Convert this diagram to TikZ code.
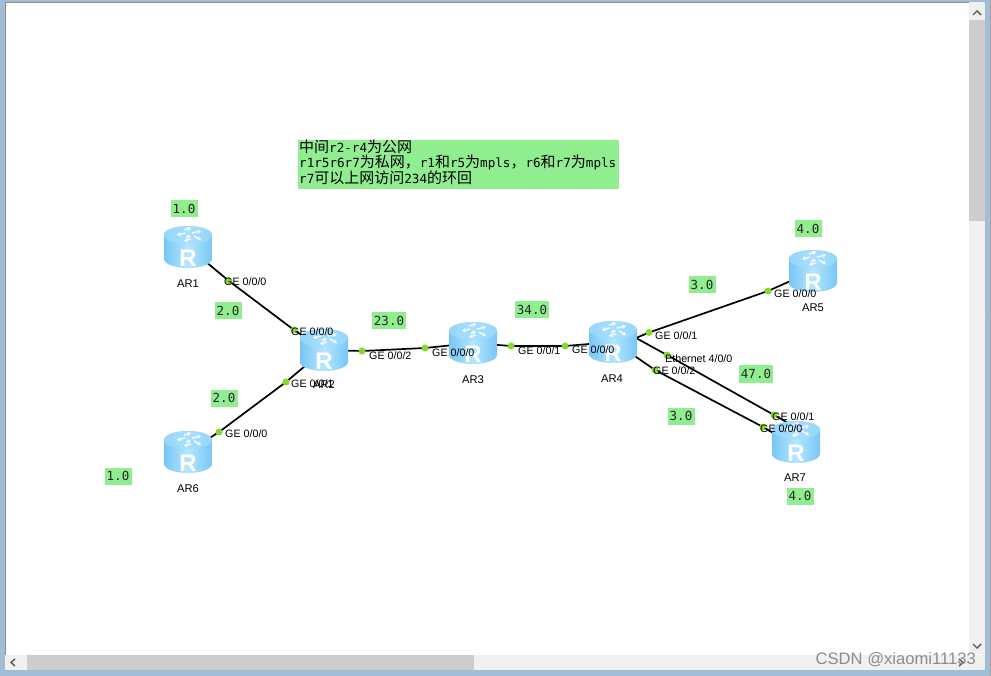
\documentclass[tikz,border=0pt]{standalone}
\usepackage{fontspec}
\setmainfont{Liberation Sans}
\newfontfamily\cjkf{Noto Sans CJK SC}
\newfontfamily\monof{DejaVu Sans Mono}
\usetikzlibrary{arrows.meta}
\definecolor{lab}{HTML}{90EE90}
\definecolor{dotc}{HTML}{84D92F}
\definecolor{frameb}{HTML}{A4BDD6}
\definecolor{track}{HTML}{F0F0F0}
\definecolor{thumb}{HTML}{CDCDCD}
\definecolor{rside}{HTML}{78C6F6}
\definecolor{rmid}{HTML}{B4E6FF}
\definecolor{rtop}{HTML}{94D6FB}
\definecolor{rtopl}{HTML}{A9DFFD}
\pgfdeclarelayer{windowlayer}
\pgfdeclarelayer{linelayer}
\pgfsetlayers{windowlayer,linelayer,main}
\newcommand{\LT}[1]{{\monof\fontsize{12.6}{15}\selectfont #1}}
\newcommand{\ZH}[1]{{\cjkf\fontsize{15}{15}\selectfont #1}}
\tikzset{
  x=1pt,y=-1pt,
  addr/.style={fill=lab,inner sep=0pt,minimum width=27pt,minimum height=17pt,font=\monof\fontsize{12.5}{13}\selectfont,text=black!85},
  addrw/.style={addr,minimum width=34pt},
  port/.style={anchor=west,inner sep=0pt,font=\fontsize{10.7}{12}\selectfont},
  devname/.style={inner sep=0pt,font=\fontsize{11.2}{12}\selectfont},
  pdot/.style={circle,fill=dotc,inner sep=0pt,minimum size=7pt},
  routerbox/.style={inner sep=0pt,minimum width=48pt,minimum height=42pt},
  link/.style={draw=black,line width=1.7pt},
  arr/.style={white,line width=1.4pt,opacity=.9,-{Stealth[length=3.6pt,width=4.4pt]}},
  notetext/.style={anchor=west,inner sep=0pt},
  sbar/.style={fill=track,draw=none,inner sep=0pt},
  sthumb/.style={fill=thumb,draw=none,inner sep=0pt},
  chev/.style={draw=black!65,line width=1.4pt}
}
\newcommand{\routerat}[3]{%
  \node[routerbox] (#1) at (#2,#3) {};
  \begin{scope}[shift={(#2,#3)}]
    \path[left color=rside,right color=rside,middle color=rmid]
      (-24,-12) -- (-24,12) .. controls (-24,17) and (-13,21) .. (0,21)
      .. controls (13,21) and (24,17) .. (24,12) -- (24,-12)
      .. controls (24,-17) and (13,-21) .. (0,-21)
      .. controls (-13,-21) and (-24,-17) .. (-24,-12) -- cycle;
    \path[left color=rtop,right color=rtop,middle color=rtopl]
      (-24,-12) .. controls (-24,-7) and (-13,-3) .. (0,-3)
      .. controls (13,-3) and (24,-7) .. (24,-12)
      .. controls (24,-17) and (13,-21) .. (0,-21)
      .. controls (-13,-21) and (-24,-17) .. (-24,-12) -- cycle;
    \draw[arr] (-3,-14) -- (-11,-12);
    \draw[arr] (-4,-17) -- (3,-19);
    \draw[arr] (4,-14) -- (13,-16);
    \draw[arr] (3,-8) -- (-4,-6);
    \draw[arr] (-2,-10) -- (3,-11);
    \draw[arr] (6,-11) -- (13,-7);
    \node[inner sep=0pt,text=white,font=\bfseries\fontsize{24}{24}\selectfont] at (0,11) {R};
  \end{scope}}
\begin{document}
\begin{tikzpicture}
\useasboundingbox (0,0) rectangle (991,676);
\begin{pgfonlayer}{windowlayer}
\fill[frameb] (0,0) rectangle (991,676);
\fill[gray!70] (989.5,0) rectangle (991,676);
\fill[white] (5,2) rectangle (985,670);
\draw[black!45,line width=.8pt] (5,2) -- (5,670.5) (5,2) -- (985.5,2);
\node[sbar,minimum width=16pt,minimum height=652pt] (vtrack) at (977,328) {};
\node[sthumb,minimum width=16pt,minimum height=201pt] (vthumb) at (977,120.5) {};
\node[sbar,minimum width=980pt,minimum height=15pt] (htrack) at (495,662.5) {};
\node[sthumb,minimum width=447pt,minimum height=15pt] (hthumb) at (250.5,662.5) {};
\draw[chev] (973,15) -- (977,11) -- (981,15);
\draw[chev] (973,644) -- (977,648) -- (981,644);
\draw[chev] (15,659) -- (11,662.5) -- (15,666);
\draw[chev] (959,659) -- (963,662.5) -- (959,666);
\fill[gray!60] (987,312) -- (989,316) -- (987,320) -- cycle;
\node[fill=lab,anchor=north west,minimum width=321pt,minimum height=49pt,inner sep=0pt] (note) at (298,140) {};
\end{pgfonlayer}
% note
\node[notetext] (n1) at (299,146.5) {\ZH{中间}\LT{r2-r4}\ZH{为公网}};
\node[notetext] (n2) at (299,163) {\LT{r1r5r6r7}\ZH{为私网，}\LT{r1}\ZH{和}\LT{r5}\ZH{为}\LT{mpls}\ZH{，}\LT{r6}\ZH{和}\LT{r7}\ZH{为}\LT{mpls}};
\node[notetext] (n3) at (299,178) {\LT{r7}\ZH{可以上网访问}\LT{234}\ZH{的环回}};
% routers
\routerat{ar1}{188}{247}
\routerat{ar2}{324}{350}
\routerat{ar3}{473}{343}
\routerat{ar4}{613}{342}
\routerat{ar5}{813}{271}
\routerat{ar6}{188}{452}
\routerat{ar7}{796}{442}
\coordinate (ar4ne) at (636,338);
\coordinate (ar4se) at (634,355.5);
\coordinate (ar7a) at (790,424);
\coordinate (ar7b) at (780,437);
% port dots
\node[pdot] (p1) at (229,281) {};
\node[pdot] (p2) at (294,330) {};
\node[pdot] (p3) at (286,382) {};
\node[pdot] (p4) at (219,432) {};
\node[pdot] (p5) at (362,351) {};
\node[pdot] (p6) at (425,348) {};
\node[pdot] (p7) at (511,346) {};
\node[pdot] (p8) at (565,346) {};
\node[pdot] (p9) at (649,332.5) {};
\node[pdot] (p10) at (768,291) {};
\node[pdot] (p11) at (667,355) {};
\node[pdot] (p12) at (774,415) {};
\node[pdot] (p13) at (655,370) {};
\node[pdot] (p14) at (763,427) {};
% links
\begin{pgfonlayer}{linelayer}
\path[link] (ar1.center) -- (p1.center) -- (p2.center) -- (ar2.center);
\path[link] (ar2.center) -- (p3.center) -- (p4.center) -- (ar6.center);
\path[link] (ar2.center) -- (p5.center) -- (p6.center) -- (ar3.center);
\path[link] (ar3.center) -- (p7.center) -- (p8.center) -- (ar4.center);
\path[link] (ar4ne) -- (p9.center) -- (p10.center) -- (ar5.center);
\path[link] (ar4ne) -- (p11.center) -- (p12.center) -- (ar7a);
\path[link] (ar4se) -- (p13.center) -- (p14.center) -- (ar7b);
\end{pgfonlayer}
% labels
\node[port] (l1) at (224,282) {GE 0/0/0};
\node[port] (l2) at (291,332) {GE 0/0/0};
\node[port] (l3) at (291,384) {GE 0/0/1};
\node[port] (l4) at (225,434) {GE 0/0/0};
\node[port] (l5) at (369,356) {GE 0/0/2};
\node[port] (l6) at (432,353) {GE 0/0/0};
\node[port] (l7) at (518,351) {GE 0/0/1};
\node[port] (l8) at (572,350) {GE 0/0/0};
\node[port] (l9) at (655,336) {GE 0/0/1};
\node[port] (l10) at (774,294) {GE 0/0/0};
\node[port] (l11) at (665,359) {Ethernet 4/0/0};
\node[port] (l12) at (772,417) {GE 0/0/1};
\node[port] (l13) at (653,371) {GE 0/0/2};
\node[port] (l14) at (760,429) {GE 0/0/0};
% device names
\node[devname] (t1) at (188,284) {AR1};
\node[devname] (t2) at (324,385) {AR2};
\node[devname] (t3) at (473,380) {AR3};
\node[devname] (t4) at (612,379) {AR4};
\node[devname] (t5) at (813,308) {AR5};
\node[devname] (t6) at (188,489) {AR6};
\node[devname] (t7) at (795,478) {AR7};
% addresses
\node[addr] (a1) at (184,209) {1.0};
\node[addr] (a2) at (228,311) {2.0};
\node[addrw] (a3) at (389,321) {23.0};
\node[addrw] (a4) at (532,310) {34.0};
\node[addr] (a5) at (702,285) {3.0};
\node[addr] (a6) at (808,229) {4.0};
\node[addrw] (a7) at (756,374) {47.0};
\node[addr] (a8) at (681,416) {3.0};
\node[addr] (a9) at (800,496) {4.0};
\node[addr] (a10) at (224,398) {2.0};
\node[addr] (a11) at (118,476) {1.0};
% watermark
\node[anchor=east,inner sep=0pt,text=black!45,font=\fontsize{16.6}{18}\selectfont] (wm) at (976,660) {CSDN @xiaomi11133};
\end{tikzpicture}
\end{document}
